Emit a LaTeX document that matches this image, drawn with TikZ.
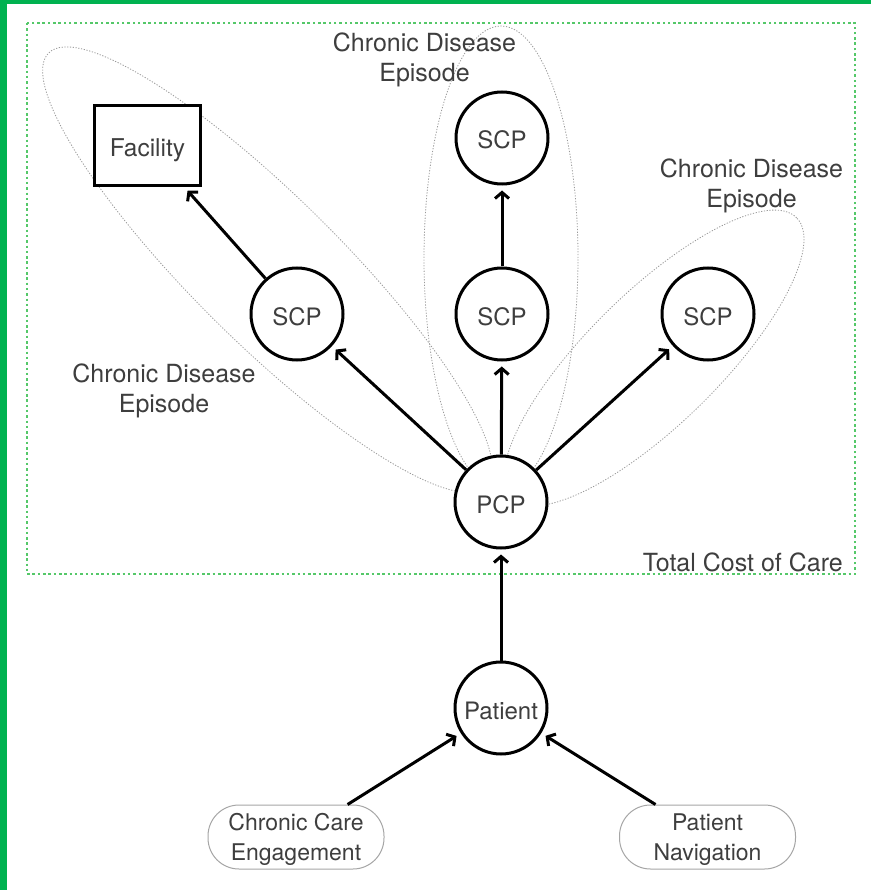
\documentclass[tikz,border=0pt]{standalone}
\usepackage{fontspec}
\setmainfont{TeX Gyre Heros}
\usetikzlibrary{arrows.meta}
\definecolor{frameg}{RGB}{0,178,80}
\definecolor{dotg}{RGB}{85,200,105}
\definecolor{txt}{RGB}{62,62,62}
\begin{document}
\begin{tikzpicture}[x=1pt,y=1pt,
  lbl/.style={font=\fontsize{25}{30.5}\selectfont, text=txt, align=center, inner sep=0pt},
  circ/.style={circle, draw=black, line width=3pt, fill=white, minimum size=92pt, inner sep=0pt, font=\fontsize{24}{28}\selectfont, text=txt, text height=22pt, text depth=0pt},
  boxnode/.style={rectangle, draw=black, line width=3pt, fill=white, minimum width=106pt, minimum height=80pt, inner sep=0pt, font=\fontsize{24.5}{28}\selectfont, text=txt, text height=22pt, text depth=0pt},
  conn/.style={line width=3pt, -{Straight Barb[length=6pt,width=14pt]}, shorten >=5pt},
  episode/.style={draw=gray!80, line width=0.8pt, dash pattern=on 1.2pt off 1.6pt},
  pill/.style={rectangle, draw=gray!70, line width=1pt, rounded corners=31pt, minimum width=176pt, minimum height=64pt, inner sep=0pt, align=center, fill=white, font=\fontsize{23}{30}\selectfont, text=txt, text depth=0pt}
]
\useasboundingbox (0,0) rectangle (871,-890);
\fill[white] (0,0) rectangle (871,-890);
\fill[frameg] (0,0) rectangle (7,-890);
\fill[frameg] (0,0) rectangle (871,-4);
\draw[dotg, line width=2.8pt, dash pattern=on 2.5pt off 2.8pt] (27,-23) rectangle (855,-574);

% episode ellipses
\draw[episode, shift={(267.5,-269.7)}, rotate=-44.7] (0,0) ellipse [x radius=308, y radius=73];
\draw[episode] (501,-258) ellipse [x radius=77, y radius=232];
\draw[episode, shift={(654,-358)}, rotate=44.5] (0,0) ellipse [x radius=200, y radius=66];

% labels
\node[lbl] (lblT) at (424.5,-60) {Chronic Disease\\Episode};
\node[lbl] (lblR) at (751.5,-186) {Chronic Disease\\Episode};
\node[lbl] (lblL) at (164,-391) {Chronic Disease\\Episode};
\node[lbl, anchor=base east] (lblTCC) at (843,-571) {Total Cost of Care};

% nodes
\node[circ] (scpT) at (502,-138) {SCP};
\node[circ] (scpL) at (297,-314) {SCP};
\node[circ] (scpM) at (502,-314) {SCP};
\node[circ] (scpR) at (708,-314) {SCP};
\node[circ] (pcp) at (501,-502) {PCP};
\node[circ] (pat) at (501,-708) {Patient};
\node[boxnode] (fac) at (147.5,-145.5) {Facility};
\node[pill] (cce) at (296,-837) {Chronic Care\\Engagement};
\node[pill] (pn) at (707.5,-837) {Patient\\Navigation};

% connectors
\draw[conn] (pat) -- (pcp);
\draw[conn] (cce) -- (pat);
\draw[conn] (pn) -- (pat);
\draw[conn] (pcp) -- (scpL);
\draw[conn] (pcp) -- (scpM);
\draw[conn] (pcp) -- (scpR);
\draw[conn] (scpM) -- (scpT);
\draw[conn] (scpL) -- (fac);
\end{tikzpicture}
\end{document}
